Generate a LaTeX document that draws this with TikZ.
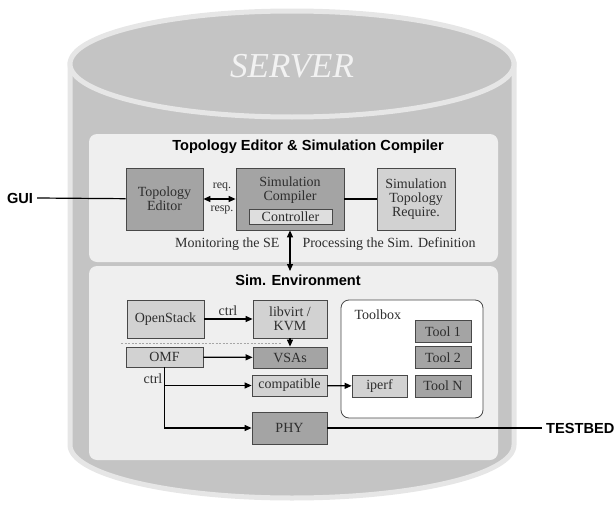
\documentclass[tikz,border=0pt]{standalone}
\usepackage{fontspec}
\setmainfont{Liberation Serif}
\newfontfamily\headfont{Liberation Sans}
\usepackage{tikz}
\usetikzlibrary{arrows.meta,calc,positioning}
\definecolor{srvgray}{HTML}{C4C4C4}
\definecolor{rimgray}{HTML}{E6E6E6}
\definecolor{panelgray}{HTML}{EFEFEF}
\definecolor{boxdark}{HTML}{A4A4A4}
\definecolor{boxlight}{HTML}{D2D2D2}
\definecolor{ctrlgray}{HTML}{DEDEDE}
\definecolor{edgegray}{HTML}{484848}
\definecolor{txtgray}{HTML}{2E2E2E}

\begin{document}
\begin{tikzpicture}[x=1pt,y=-1pt,>={Triangle[length=7pt,width=6pt]},
  font=\fontsize{14}{14}\selectfont,text=txtgray,
  blk/.style={draw=edgegray,line width=0.8pt,align=center,inner sep=1pt},
  darkbox/.style={blk,fill=boxdark},
  lightbox/.style={blk,fill=boxlight},
  head/.style={text=black,inner sep=0pt,font=\headfont\bfseries\fontsize{14.6}{16}\selectfont},
  conn/.style={line width=1.2pt}]
\useasboundingbox (0,0) rectangle (616,506);
% server cylinder
\draw[rimgray,line width=5pt,fill=srvgray] (70,64) -- (70,445)
  arc[start angle=180,end angle=0,x radius=222,y radius=53] -- (514,64) -- cycle;
\draw[rimgray,line width=5pt,fill=srvgray] (292,64) ellipse [x radius=222,y radius=53];
\node[text=white!95!black,font=\itshape\fontsize{35}{36}\selectfont] (srv) at (292,66) {SERVER};
% the two panels
\fill[panelgray,rounded corners=8pt] (89,134) rectangle (498,262);
\fill[panelgray,rounded corners=8pt] (89,266) rectangle (498,460);
\node[head] (tesc) at (308,147) {Topology Editor \& Simulation Compiler};
\node[head] (simenv) at (298,280) {Sim. Environment};
% upper panel
\node[darkbox,minimum width=77,minimum height=62] (editor) at (164.5,199) {Topology\\Editor};
\node[darkbox,minimum width=108,minimum height=62] (comp) at (290,199) {};
\node[align=center,inner sep=0pt] (comptxt) at (290,190) {Simulation\\Compiler};
\node[blk,fill=ctrlgray,minimum width=83,minimum height=15,inner sep=0pt] (ctrl) at (290.5,216.5) {Controller};
\node[lightbox,minimum width=78,minimum height=62] (treq) at (416,199) {Simulation\\Topology\\Require.};
\draw[conn,<->] (editor) -- (comp);
\node[font=\fontsize{12}{13}\selectfont] (req) at (222,187) {req.};
\node[font=\fontsize{12}{13}\selectfont] (resp) at (222,210) {resp.};
\draw[conn] (comp) -- (treq);
\node[head] (gui) at (20,198) {GUI};
\draw[conn] (gui.east) ++(4,0) coordinate (guiR) (guiR) -- (editor);
\coordinate (seTop) at (290,271);
\draw[conn,<->] (comp.south) -- (seTop);
\node[anchor=east] (mon) at (283,244) {Monitoring the SE};
\node[anchor=west] (proc) at (299,244) {Processing the Sim. Definition};
% lower panel
\node[lightbox,minimum width=77,minimum height=38] (ostack) at (165.5,319) {OpenStack};
\node[lightbox,minimum width=74,minimum height=38] (libvirt) at (290,319) {libvirt /\\KVM};
\draw[conn,->] (ostack) -- (libvirt);
\node (ctrla) at (228,311) {ctrl};
\coordinate (dashL) at (121,343);
\coordinate (dashR) at (282,343);
\draw[gray!70,line width=0.8pt,dash pattern=on 2pt off 1.5pt] (dashL) -- (dashR);
\node[lightbox,minimum width=77,minimum height=20] (omf) at (164.5,357) {OMF};
\node[darkbox,minimum width=74,minimum height=21] (vsa) at (290,357.5) {VSAs};
\draw[conn,->] (libvirt) -- (vsa);
\draw[conn,->] (omf) -- (vsa);
\node (ctrlb) at (153,379) {ctrl};
% toolbox
\node[draw=edgegray,line width=0.8pt,fill=white,rounded corners=8pt,minimum width=142,minimum height=118] (toolbox) at (412,359) {};
\node[anchor=west] (tbtitle) at (351,315) {Toolbox};
\foreach \n/\t/\y in {t1/Tool 1/331.5,t2/Tool 2/357.5,tN/Tool N/386}
  \node[darkbox,minimum width=56,minimum height=22] (\n) at (443,\y) {\t};
\node[lightbox,minimum width=75,minimum height=21] (compat) at (289.5,385.5) {compatible};
\node[lightbox,minimum width=55,minimum height=22] (iperf) at (379.5,386) {iperf};
\node[darkbox,minimum width=75,minimum height=32] (phy) at (289.5,428) {PHY};
\draw[conn,->] (compat) -- (iperf);
\draw[conn,->] (omf.south) -- (omf.south |- phy) -- (phy);
\draw[conn,->] (omf.south |- compat) -- (compat);
\node[head,anchor=west] (testbed) at (546,428) {TESTBED};
\draw[conn] (phy) -- ([xshift=-4pt]testbed.west);
\end{tikzpicture}
\end{document}
